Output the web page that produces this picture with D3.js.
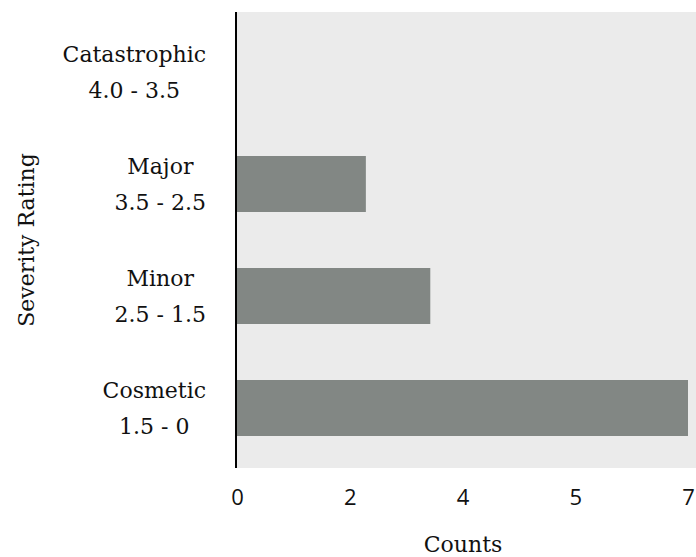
<!DOCTYPE html>
<html><head><meta charset="utf-8">
<script src="https://cdn.jsdelivr.net/npm/d3@7"></script>
<style>body{margin:0;background:#fff}</style>
</head><body>
<svg id="c" width="696" height="557"></svg>
<script>
const categories = ["Catastrophic","Major","Minor","Cosmetic"];
const ranges = ["4.0 - 3.5","3.5 - 2.5","2.5 - 1.5","1.5 - 0"];
const counts = [0, 2, 3, 7];
const tickValues = [0, 1.75, 3.5, 5.25, 7];
const tickLabels = ["0","2","4","5","7"];

const svg = d3.select("#c");
const serif = "'DejaVu Serif', serif";
const sans = "'Open Sans', sans-serif";

const x = d3.scaleLinear().domain([0,7]).range([237,688]);
const y = d3.scaleBand().domain(categories).range([16,464]).paddingInner(0.5).paddingOuter(0.25);

svg.append("rect").attr("x",237).attr("y",12).attr("width",696-237).attr("height",456).attr("fill","#ebebeb");

svg.selectAll("rect.bar").data(categories).join("rect").attr("class","bar")
  .attr("x",x(0)).attr("y",d=>y(d)).attr("height",y.bandwidth())
  .attr("width",(d,i)=>x(counts[i])-x(0)).attr("fill","#828784");

svg.append("line").attr("x1",236).attr("x2",236).attr("y1",12).attr("y2",468)
  .attr("stroke","#000").attr("stroke-width",2);

const xAxis = d3.axisBottom(x).tickValues(tickValues).tickFormat((d,i)=>tickLabels[i]).tickSize(0).tickPadding(0);
const gx = svg.append("g").attr("transform","translate(0,505)").call(xAxis);
gx.select(".domain").remove();
gx.attr("font-size",22).attr("font-family",sans);
gx.selectAll("text").attr("fill","#111").attr("y",0).attr("dy",0);

// category labels
categories.forEach((c,i)=>{
  const cy = y(c)+y.bandwidth()/2;
  const g = svg.append("g");
  const t1 = g.append("text").text(c).attr("y",cy-10).attr("font-family",serif).attr("font-size",22).attr("text-anchor","middle").attr("fill","#111");
  const t2 = g.append("text").text(ranges[i]).attr("y",cy+26).attr("font-family",serif).attr("font-size",22).attr("text-anchor","middle").attr("fill","#111");
  const w = Math.max(t1.node().getComputedTextLength(), t2.node().getComputedTextLength());
  const cx = 206 - w/2;
  t1.attr("x",cx); t2.attr("x",cx);
});

svg.append("text").text("Counts").attr("x",463).attr("y",552).attr("text-anchor","middle")
  .attr("font-family",serif).attr("font-size",22).attr("fill","#111");
svg.append("text").text("Severity Rating").attr("transform","translate(34,240) rotate(-90)").attr("text-anchor","middle")
  .attr("font-family",serif).attr("font-size",22).attr("fill","#111");
</script>
</body></html>
